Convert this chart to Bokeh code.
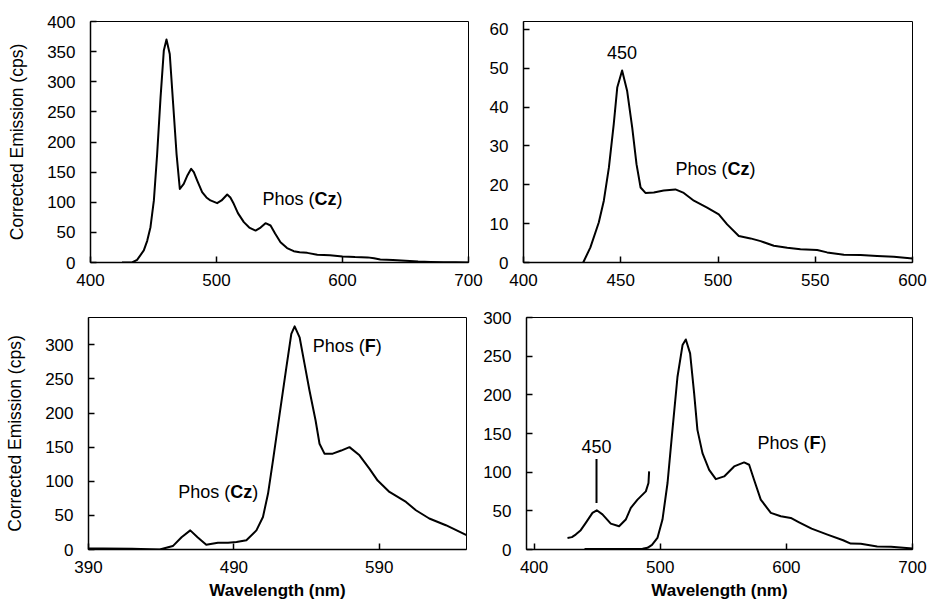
from bokeh.plotting import figure
from bokeh.layouts import column, row
from bokeh.models import Range1d, FixedTicker
from bokeh.embed import file_html
from bokeh.resources import INLINE
from bokeh.core.properties import value

# ---------------- data ----------------
# Panel 1 (top left)
x1 = [425, 433, 437, 442.3, 445, 447.6, 450.3, 452.9, 455.6, 458.2, 460.3, 462.9, 465.6, 468.3,
      470.9, 474, 477, 479.9, 482, 484.7, 488.6, 492, 495.2, 500.5, 504, 508.5, 511, 513.7, 517,
      521.7, 526, 531, 535, 538.9, 542.9, 546.5, 550.8, 556, 561.3, 566, 572, 580, 590, 600, 610,
      620, 625, 630, 640, 650, 660, 670, 680, 690, 700]
y1 = [0, 0, 4.4, 20, 36, 58.6, 103, 180, 274, 352, 370, 346, 263, 180,
      122, 130.6, 145, 155.5, 150, 136, 116.7, 108, 103, 98.5, 103, 112.9, 108, 97.4, 82,
      67, 58, 53, 58, 65.3, 61.4, 48, 33.7, 24, 18.8, 17, 16, 13, 12, 10, 9,
      8.5, 7, 5, 4, 3, 1.5, 1, 0.5, 0.3, 0.2]

# Panel 2 (top right)
x2 = [430.7, 434.4, 438.7, 441.3, 443.9, 446.4, 448.2, 450.7, 453.3, 455.9, 458.1, 460.2, 462.7,
      467, 472.1, 478.1, 482.4, 487.6, 494.4, 500.4, 504.7, 510.7, 516.7, 521.9, 528.7, 535.6,
      542.4, 551, 556.1, 564.7, 573.3, 581.8, 590.4, 600]
y2 = [0, 3.9, 10.3, 15.9, 24.4, 35.6, 45, 49.4, 44.1, 34.7, 25.3, 19.3, 17.9,
      18, 18.5, 18.8, 17.9, 15.9, 14.1, 12.4, 9.8, 6.8, 6.2, 5.5, 4.3, 3.8,
      3.4, 3.2, 2.6, 2, 1.9, 1.7, 1.5, 1.0]

# Panel 3 (bottom left)
x3 = [390, 400, 420, 432, 439, 448, 454, 460, 465, 471, 479, 486, 491.8, 498.6, 505.5, 510, 513.5,
      516.9, 521.5, 526.1, 529.5, 531.8, 535.2, 538.6, 542, 546.2, 548.9, 552.3, 558, 563.8, 569.5,
      576.4, 583.2, 588.9, 597, 608.4, 615.2, 624.4, 635.8, 650]
y3 = [1.5, 1.5, 1, 0.5, 0, 5, 18, 28, 18, 7, 10, 10, 11, 13.6, 28, 47.7, 82,
      130.7, 199, 267, 316, 327, 311, 272, 233, 189, 155, 140.5, 140.5, 145, 150,
      138, 118.6, 101, 84.3, 69.7, 57.5, 45.4, 35.6, 21]

# Panel 4 (bottom right) main spectrum
x4 = [440, 486, 489.9, 493.5, 497.8, 501.8, 505.8, 509.7, 513.7, 517.7, 520.3, 523.7, 526.9, 529.5,
      533.5, 538.8, 544.1, 550.7, 558.6, 566.5, 570.5, 574.4, 579.7, 587.7, 595.6, 603.5, 610.1,
      620, 632.6, 645, 651, 659, 672, 683, 700]
y4 = [0.5, 1, 2.2, 6, 15, 38.7, 86, 154.7, 223.4, 264.3, 271.6, 253.6, 202, 154.7,
      124.6, 103, 91, 94.5, 107.4, 112.6, 109.6, 90.2, 64.5, 47.3, 43, 40.8, 35.2,
      27, 19.3, 12, 7.7, 7.3, 3.9, 3.4, 1.3]
# Panel 4 expanded short-wavelength part
x4b = [426.5, 430, 433, 437, 441, 446.3, 449.7, 454.2, 460.8, 467.4, 472.7, 476.7, 482, 488.6,
       490.7, 491.2]
y4b = [15, 16, 19.3, 25, 34.4, 47.3, 50.7, 45.5, 33.5, 30, 38.7, 53.7, 64.5, 75.2,
       86, 101]

# tick values
xt1 = [400, 500, 600, 700]
yt1 = [0, 50, 100, 150, 200, 250, 300, 350, 400]
xt2 = [400, 450, 500, 550, 600]
yt2 = [0, 10, 20, 30, 40, 50, 60]
xt3 = [390, 490, 590]
yt3 = [0, 50, 100, 150, 200, 250, 300]
xt4 = [400, 500, 600, 700]
yt4 = [0, 50, 100, 150, 200, 250, 300]

# annotations (x, y in data units)
lab1_cz = (536.5, 106)
lab2_450 = (450.7, 54)
lab2_cz = (478.1, 24)
lab3_f = (544.3, 298)
lab3_cz = (451.7, 84)
lab4_450 = (449.5, 133)
lab4_f = (577.1, 137.5)
mark4_450 = (449.5, 60, 117)

FONT = "Liberation Sans"
TICK_SIZE = "17px"
ANN_SIZE = 18

# approximate Arial advance widths (per 1000 em) for offsets of mixed bold text
W_NORMAL = {"P": 667, "h": 556, "o": 556, "s": 500, " ": 278, "(": 333, ")": 333}
W_BOLD = {"C": 722, "z": 500, "F": 611}


def text_width(t, bold):
    tab = W_BOLD if bold else W_NORMAL
    return sum(tab.get(c, 556) for c in t) * ANN_SIZE / 1000.0


def make_fig(width, height, xr, yr, xt, yt, borders, ylabel=None, xlabel=None):
    p = figure(width=width, height=height,
               x_range=Range1d(*xr), y_range=Range1d(*yr),
               output_backend="svg", toolbar_location=None,
               min_border_left=borders[0], min_border_right=borders[1],
               min_border_top=borders[2], min_border_bottom=borders[3])
    p.grid.visible = False
    p.background_fill_color = "white"
    p.border_fill_color = "white"
    p.outline_line_color = "black"
    p.outline_line_width = 1
    for ax in (p.xaxis[0], p.yaxis[0]):
        ax.major_tick_in = 6
        ax.major_tick_out = 0
        ax.minor_tick_line_color = None
        ax.axis_line_width = 1.5
        ax.axis_line_color = "black"
        ax.major_tick_line_color = "black"
        ax.major_tick_line_width = 1.5
        ax.major_label_text_font = FONT
        ax.major_label_text_font_size = TICK_SIZE
        ax.major_label_text_color = "black"
    p.xaxis[0].ticker = FixedTicker(ticks=xt)
    p.yaxis[0].ticker = FixedTicker(ticks=yt)
    p.xaxis[0].major_label_standoff = 11
    p.yaxis[0].major_label_standoff = 15
    if ylabel:
        p.yaxis[0].axis_label = ylabel
        p.yaxis[0].axis_label_text_font = FONT
        p.yaxis[0].axis_label_text_font_size = "17.5px"
        p.yaxis[0].axis_label_text_font_style = "normal"
        p.yaxis[0].axis_label_text_color = "black"
        p.yaxis[0].axis_label_standoff = 17
    if xlabel:
        p.xaxis[0].axis_label = xlabel
        p.xaxis[0].axis_label_text_font = FONT
        p.xaxis[0].axis_label_text_font_size = "17px"
        p.xaxis[0].axis_label_text_font_style = "bold"
        p.xaxis[0].axis_label_text_color = "black"
        p.xaxis[0].axis_label_standoff = 5
    return p


def rich(p, pos, parts):
    off = 0.0
    for t, bold in parts:
        p.text(x=[pos[0]], y=[pos[1]], text=[t], x_offset=off,
               text_font=value(FONT), text_font_size=f"{ANN_SIZE}px",
               text_font_style="bold" if bold else "normal",
               text_baseline="middle", text_align="left", text_color="black")
        off += text_width(t, bold)


def plain(p, pos, t):
    p.text(x=[pos[0]], y=[pos[1]], text=[t],
           text_font=value(FONT), text_font_size=f"{ANN_SIZE}px",
           text_baseline="middle", text_align="center", text_color="black")


YL = "Corrected Emission (cps)"
XL = "Wavelength (nm)"
CZ = [("Phos (", False), ("Cz", True), (")", False)]
FF = [("Phos (", False), ("F", True), (")", False)]

p1 = make_fig(485, 300, (400, 700), (0, 400), xt1, yt1, (90, 17, 21, 38), ylabel=YL)
p1.line(x1, y1, line_color="black", line_width=2, line_join="round")
rich(p1, lab1_cz, CZ)

p2 = make_fig(444, 300, (400, 600), (0, 62), xt2, yt2, (38, 17, 21, 38))
p2.line(x2, y2, line_color="black", line_width=2, line_join="round")
plain(p2, lab2_450, "450")
rich(p2, lab2_cz, CZ)

p3 = make_fig(478, 303, (390, 650), (0, 340), xt3, yt3, (88, 12, 17, 54), ylabel=YL, xlabel=XL)
p3.line(x3, y3, line_color="black", line_width=2, line_join="round")
rich(p3, lab3_f, FF)
rich(p3, lab3_cz, CZ)

p4 = make_fig(451, 303, (394, 700), (0, 300), xt4, yt4, (48, 17, 17, 53), xlabel=XL)
p4.line(x4, y4, line_color="black", line_width=2, line_join="round")
p4.line(x4b, y4b, line_color="black", line_width=2, line_join="round")
p4.segment(x0=[mark4_450[0]], y0=[mark4_450[1]], x1=[mark4_450[0]], y1=[mark4_450[2]],
           line_color="black", line_width=2)
plain(p4, lab4_450, "450")
rich(p4, lab4_f, FF)

layout = column(row(p1, p2, spacing=0), row(p3, p4, spacing=0), spacing=0)

with open("out.html", "w") as f:
    f.write(file_html(layout, INLINE))
